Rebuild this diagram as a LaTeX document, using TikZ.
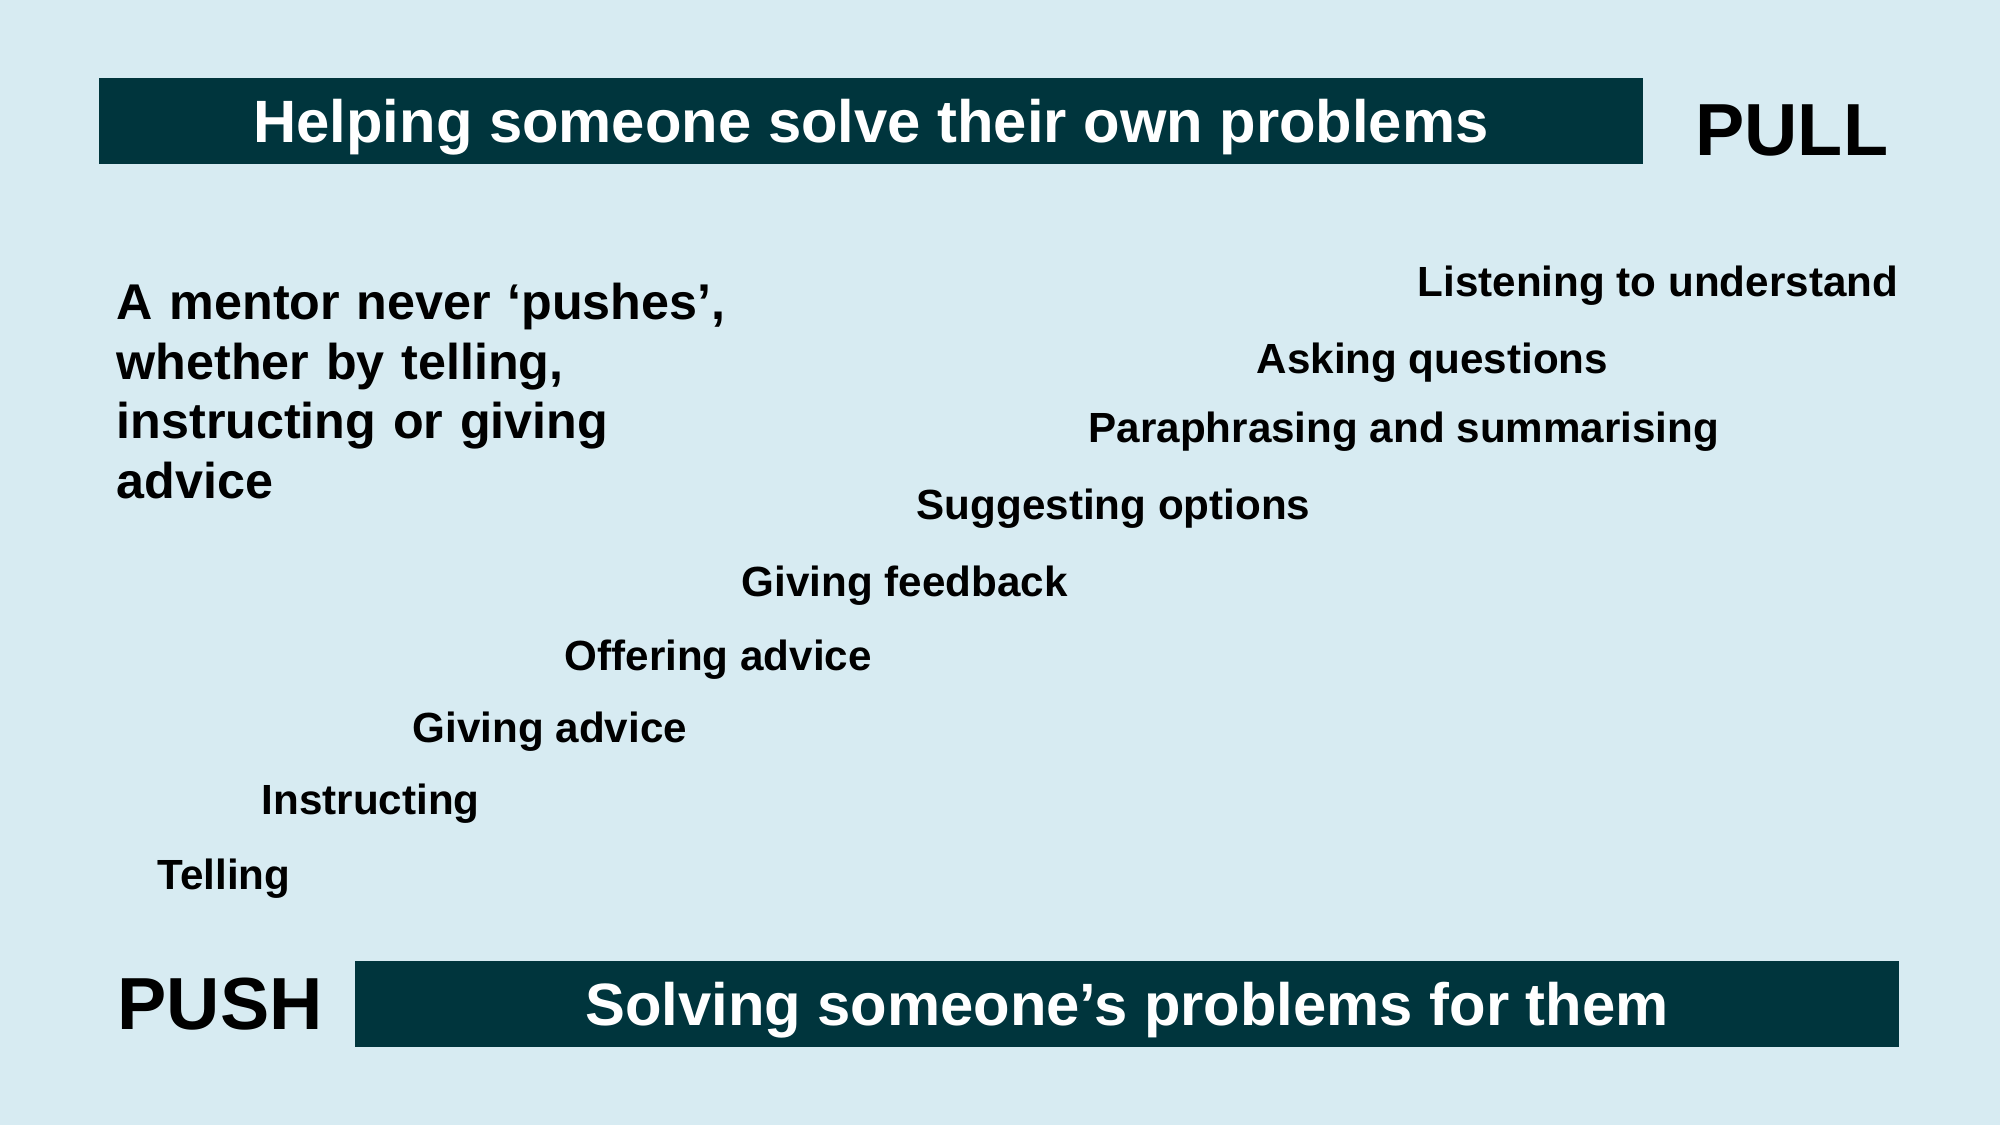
\documentclass[tikz,border=0pt]{standalone}
\usepackage{fontspec}
\setmainfont{Liberation Sans}
\usepackage{xcolor}
\usepackage{tikz}
\usetikzlibrary{positioning}
\definecolor{bgblue}{HTML}{D7EBF2}
\definecolor{barteal}{HTML}{00353D}
\tikzset{
  bar/.style={rectangle, fill=barteal, text=white, minimum width=15.44cm, minimum height=8.6mm, inner sep=0pt, text height=4.3mm, text depth=0pt, font=\fontsize{17}{20}\selectfont\bfseries},
  pole/.style={inner sep=0pt, font=\fontsize{21}{25}\selectfont\bfseries},
  note/.style={inner sep=0pt, anchor=base west, text width=7cm, align=left, font=\fontsize{14.3}{16.9}\selectfont\bfseries},
  act/.style={inner sep=0pt, anchor=base west, font=\fontsize{12}{14}\selectfont\bfseries},
}

\begin{document}
\begin{tikzpicture}[x=0.1mm, y=-0.1mm]
\fill[bgblue] (0,0) rectangle (2000,1125);
\node[bar] (pullbar) at (871,121) {Helping someone solve their own problems};
\node[pole, right=5.1mm of pullbar, yshift=-0.9mm] (pull) {PULL};
\node[bar] (pushbar) at (1127,1004) {Solving someone’s problems for them};
\node[pole, left=3.1mm of pushbar] (push) {PUSH};
\node[note] (mentor) at (116,320) {A mentor never ‘pushes’,\\whether by telling,\\instructing or giving\\advice};
% from pull (top right) down to push (bottom left)
\node[act] (listen) at (1417,297) {Listening to understand};
\node[act] (ask) at (1256,374) {Asking questions};
\node[act] (para) at (1088,443) {Paraphrasing and summarising};
\node[act] (suggest) at (916,520) {Suggesting options};
\node[act] (feedback) at (741,597) {Giving feedback};
\node[act] (offer) at (564,671) {Offering advice};
\node[act] (advise) at (412,742) {Giving advice};
\node[act] (instruct) at (261,814) {Instructing};
\node[act] (tell) at (157,890) {Telling};
\end{tikzpicture}
\end{document}
